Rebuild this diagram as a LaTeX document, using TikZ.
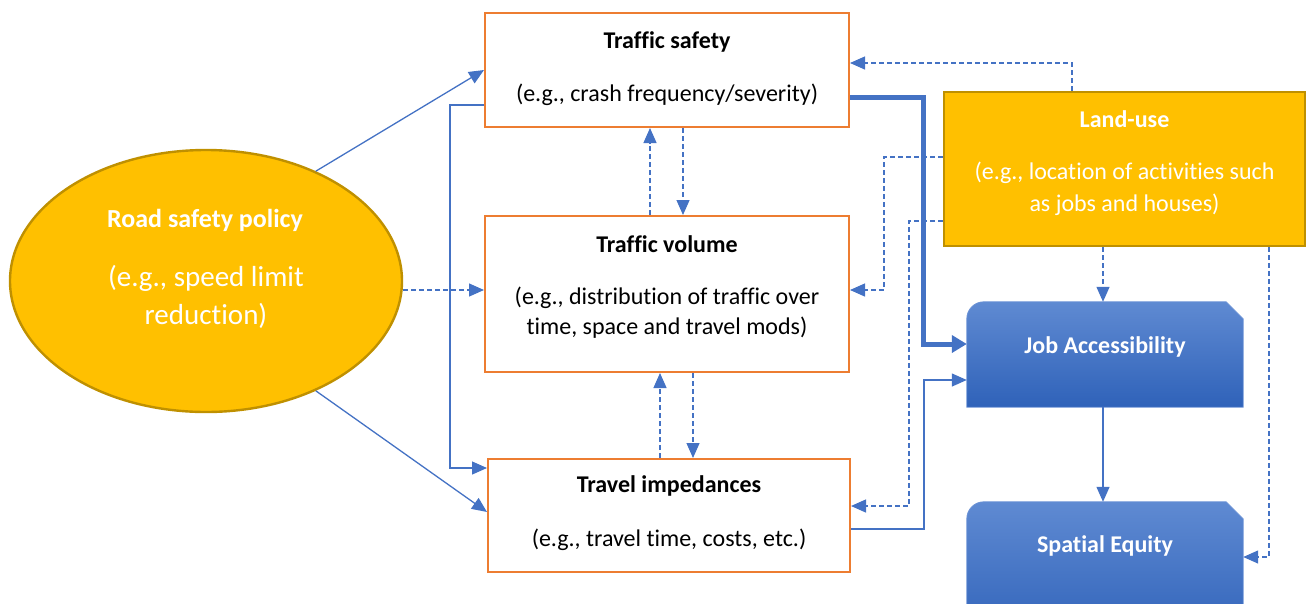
\documentclass[tikz,border=0pt]{standalone}
\usepackage{fontspec}
\setmainfont[Ligatures=NoCommon]{Carlito}
\usetikzlibrary{arrows.meta,shapes.geometric}
\definecolor{orng}{HTML}{ED7D31}
\definecolor{gold}{HTML}{FFC000}
\definecolor{goldline}{HTML}{BF9000}
\definecolor{conn}{HTML}{4472C4}
\definecolor{bluetop}{HTML}{5F8AD2}
\definecolor{bluebot}{HTML}{2F62B9}
\definecolor{blueline}{HTML}{6C93D6}
\tikzset{
  obox/.style={draw=orng, line width=2pt, fill=white, minimum width=#1, inner sep=0pt},
  gbox/.style={draw=goldline, line width=2.2pt, fill=gold, inner sep=0pt},
  area/.style={inner sep=0pt, minimum width=276pt},
  lbl/.style={font=\fontsize{24}{29}\selectfont, text=black, align=center, inner sep=0pt},
  ttl/.style={lbl, font=\fontsize{24}{29}\selectfont\bfseries},
  wlbl/.style={lbl, text=white},
  wttl/.style={ttl, text=white},
  conline/.style={draw=conn, line width=1.3pt, -{Triangle[length=15pt,width=13pt]}},
  dconline/.style={conline, dash pattern=on 5pt off 3pt},
  thickline/.style={draw=conn, line width=5pt, -{Triangle[length=15pt,width=17pt]}},
  blueshape/.style={top color=bluetop, bottom color=bluebot, draw=blueline, line width=0.8pt}
}
\begin{document}
\begin{tikzpicture}[x=1pt,y=-1pt]
\useasboundingbox (0,0) rectangle (1306,603);
\clip (0,0) rectangle (1306,603);

% ellipse
\node[ellipse, draw=goldline, line width=2.4pt, fill=gold, minimum width=392pt, minimum height=262pt, inner sep=0pt] (pol) at (206,281) {};
\node[wttl, font=\fontsize{26}{31}\selectfont\bfseries] (polt) at (205,220) {Road safety policy};
\node[wlbl, font=\fontsize{29}{38}\selectfont] (polx) at (206,297) {(e.g., speed limit\\reduction)};

% orange boxes
\node[obox=364pt, minimum height=114pt] (ts) at (667,70) {};
\node[ttl] (tst) at (667,42) {Traffic safety};
\node[lbl] (tsx) at (667,95) {(e.g., crash frequency/severity)};

\node[obox=364pt, minimum height=156pt] (tv) at (667,294) {};
\node[ttl] (tvt) at (667,244) {Traffic volume};
\node[lbl, font=\fontsize{24}{30}\selectfont] (tvx) at (667,313) {(e.g., distribution of traffic over\\time, space and travel mods)};

\node[obox=362pt, minimum height=113pt] (ti) at (669,515.5) {};
\node[ttl] (tit) at (669,486) {Travel impedances};
\node[lbl] (tix) at (669,540) {(e.g., travel time, costs, etc.)};

% land use
\node[gbox, minimum width=361pt, minimum height=154pt] (lu) at (1124.5,169) {};
\node[wttl] (lut) at (1124.5,119) {Land-use};
\node[wlbl, font=\fontsize{24}{32}\selectfont] (lux) at (1124.5,189) {(e.g., location of activities such\\as jobs and houses)};

% blue shapes
\node[area, minimum height=105pt] (ja) at (1105,354.5) {};
\path[blueshape] (ja.south west) -- ([yshift=-17pt]ja.north west) arc[start angle=180,end angle=90,radius=17pt] -- ([xshift=-17pt]ja.north east) -- ([yshift=-17pt]ja.north east) -- (ja.south east) -- cycle;
\node[wttl] (jat) at (1105,347) {Job Accessibility};

\node[area, minimum height=140pt] (se) at (1105,572) {};
\path[blueshape] (se.south west) -- ([yshift=-17pt]se.north west) arc[start angle=180,end angle=90,radius=17pt] -- ([xshift=-17pt]se.north east) -- ([yshift=-17pt]se.north east) -- (se.south east) -- cycle;
\node[wttl] (set) at (1105,546) {Spatial Equity};

% connectors
\draw[conline] (pol.45) -- (ts.west);
\draw[conline] (pol.-45) -- (ti.west |- 0,512);
\draw[dconline] (pol.east |- 0,290) -- (tv.west |- 0,290);
\draw[conline] (ts.west |- 0,105) -| (450,468) -- (ti.west |- 0,468);

\draw[dconline] (tv.north -| 650,0) -- (ts.south -| 650,0);
\draw[dconline] (ts.south -| 683,0) -- (tv.north -| 683,0);
\draw[dconline] (ti.north -| 660,0) -- (tv.south -| 660,0);
\draw[dconline] (tv.south -| 693,0) -- (ti.north -| 693,0);

\draw[dconline] (lu.north -| 1072,0) |- (ts.east |- 0,63);
\draw[thickline] (ts.east |- 0,97) -| (923,344) -- (ja.west |- 0,344);
\draw[dconline] (lu.west |- 0,157) -| (884,290) -- (tv.east |- 0,290);
\draw[dconline] (lu.west |- 0,221) -| (909,506) -- (ti.east |- 0,506);
\draw[conline] (ti.east |- 0,529) -| (924,380) -- (ja.west |- 0,380);
\draw[dconline] (lu.south -| 1103,0) -- (ja.north -| 1103,0);
\draw[conline] (ja.south -| 1103,0) -- (se.north -| 1103,0);
\draw[dconline] (lu.south -| 1269,0) |- (se.east |- 0,557);
\end{tikzpicture}
\end{document}
